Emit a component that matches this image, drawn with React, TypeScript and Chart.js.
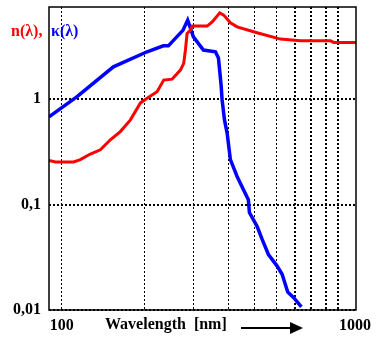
import React, { useEffect, useRef } from "react";
import { Chart, registerables } from "chart.js";

Chart.register(...registerables);

// Extinction coefficient kappa(lambda) (blue)
const kappaWavelengths = [90, 113.7, 153.8, 203.7, 233.3, 243.2, 274.9, 285.6, 299.5, 325.6, 359.9, 369, 377.6, 380.4, 388, 396.5, 407.6, 431, 454, 473.4, 477.5, 509, 531, 559.5, 601.6, 627, 657, 690.6, 736];
const kappaValues = [0.68, 1.058, 2.03, 2.82, 3.21, 3.21, 4.53, 5.63, 3.91, 2.93, 2.82, 2.46, 1.32, 0.985, 0.637, 0.48, 0.267, 0.185, 0.139, 0.111, 0.084, 0.0623, 0.0467, 0.0336, 0.0261, 0.0218, 0.0148, 0.0131, 0.0107];

// Refractive index n(lambda) (red)
const nWavelengths = [90, 94.9, 110.5, 116.8, 127, 138, 150, 163, 177.3, 192.7, 203.7, 221.4, 233.9, 250.8, 268.8, 276.3, 280.3, 284.2, 292.3, 296.4, 336, 350.3, 373, 385.6, 407.6, 431, 509, 618, 731, 938, 964, 1160];
const nValues = [0.262, 0.2535, 0.2535, 0.267, 0.302, 0.331, 0.412, 0.493, 0.637, 0.923, 1.02, 1.18, 1.52, 1.55, 1.89, 2.19, 2.93, 4.21, 4.53, 4.94, 4.94, 5.42, 6.6, 6.28, 5.31, 4.86, 4.27, 3.72, 3.58, 3.58, 3.46, 3.46];

const xGridTicks = [100, 200, 300, 400, 500, 600, 700, 800, 900, 1000];
const xLabels: Record<number, string> = { 100: "100", 1000: "1000" };
const yTicks = [0.01, 0.1, 1];
const yLabels: Record<string, string> = { "0.01": "0,01", "0.1": "0,1", "1": "1" };

const X_MIN = 90;
const X_MAX = 1160;
const Y_MIN = 0.01;
const Y_MAX = 7.5;

const SERIF = "'Liberation Serif', 'Times New Roman', serif";

const zeroPad = (s: any) => {
  s.paddingTop = 0;
  s.paddingBottom = 0;
  s.paddingLeft = 0;
  s.paddingRight = 0;
};

const decorPlugin = {
  id: "decor",
  beforeDraw(chart: any) {
    const xs = chart.scales.x;
    const items = xs.getLabelItems(chart.chartArea);
    for (const it of items) {
      if (it.label === "1000") {
        it.options.translation[0] = chart.chartArea.right - 1;
      }
    }
  },
  afterDraw(chart: any) {
    const { ctx, chartArea } = chart;
    ctx.save();
    // frame
    ctx.strokeStyle = "#000";
    ctx.lineWidth = 1.5;
    ctx.setLineDash([]);
    ctx.strokeRect(chartArea.left, chartArea.top, chartArea.right - chartArea.left, chartArea.bottom - chartArea.top);
    // legend texts
    ctx.font = `bold 16px ${SERIF}`;
    ctx.textBaseline = "alphabetic";
    ctx.textAlign = "left";
    ctx.fillStyle = "#ff0000";
    ctx.fillText("n(λ),", 11, 36);
    ctx.fillStyle = "#0000ff";
    ctx.fillText("κ(λ)", 51, 36);
    // axis title
    ctx.fillStyle = "#000";
    ctx.textBaseline = "middle";
    ctx.fillText("Wavelength  [nm]", 105, 325);
    // arrow
    ctx.beginPath();
    ctx.lineWidth = 2;
    ctx.moveTo(241, 328);
    ctx.lineTo(292, 328);
    ctx.stroke();
    ctx.beginPath();
    ctx.moveTo(290, 322);
    ctx.lineTo(303, 328);
    ctx.lineTo(290, 334);
    ctx.closePath();
    ctx.fill();
    ctx.restore();
  },
};

export default function App() {
  const ref = useRef<HTMLCanvasElement>(null);
  useEffect(() => {
    if (!ref.current) return;
    const chart = new Chart(ref.current, {
      type: "line",
      data: {
        datasets: [
          {
            label: "n",
            data: nWavelengths.map((x, i) => ({ x, y: nValues[i] })),
            borderColor: "#ff0000",
            backgroundColor: "#ff0000",
            borderWidth: 3,
            pointRadius: 0,
            tension: 0,
          },
          {
            label: "kappa",
            data: kappaWavelengths.map((x, i) => ({ x, y: kappaValues[i] })),
            borderColor: "#0000ff",
            backgroundColor: "#0000ff",
            borderWidth: 3.5,
            pointRadius: 0,
            tension: 0,
          },
        ],
      },
      options: {
        animation: false,
        responsive: false,
        maintainAspectRatio: false,
        layout: { padding: { top: 7, right: 24, left: 0, bottom: 0 } },
        plugins: { legend: { display: false }, tooltip: { enabled: false } },
        scales: {
          x: {
            type: "logarithmic",
            min: X_MIN,
            max: X_MAX,
            afterBuildTicks: (s: any) => {
              s.ticks = xGridTicks.map((v) => ({ value: v }));
            },
            afterFit: (s: any) => {
              s.height = 41;
              zeroPad(s);
            },
            ticks: {
              autoSkip: false,
              maxRotation: 0,
              padding: 6,
              color: "#000",
              font: { family: SERIF, size: 16, weight: "bold" },
              callback: (v: any) => xLabels[Number(v)] ?? "",
            },
            grid: {
              color: "#000",
              drawTicks: false,
              lineWidth: (c: any) => (c.tick && c.tick.value >= 700 ? 2 : 1),
            },
            border: { display: false, dash: [2, 2] },
          },
          y: {
            type: "logarithmic",
            min: Y_MIN,
            max: Y_MAX,
            afterBuildTicks: (s: any) => {
              s.ticks = yTicks.map((v) => ({ value: v }));
            },
            afterFit: (s: any) => {
              s.width = 49;
              zeroPad(s);
            },
            ticks: {
              autoSkip: false,
              padding: 8,
              color: "#000",
              font: { family: SERIF, size: 16, weight: "bold" },
              callback: (v: any) => yLabels[String(Number(v))] ?? "",
            },
            grid: {
              color: "#000",
              drawTicks: false,
              lineWidth: 2,
            },
            border: { display: false, dash: [2, 2] },
          },
        },
      },
      plugins: [decorPlugin],
    } as any);
    return () => chart.destroy();
  }, []);
  return (
    <div style={{ position: "absolute", left: 0, top: 0, width: 380, height: 351, background: "#fff" }}>
      <canvas ref={ref} width={380} height={351} style={{ width: 380, height: 351, display: "block" }} />
    </div>
  );
}
